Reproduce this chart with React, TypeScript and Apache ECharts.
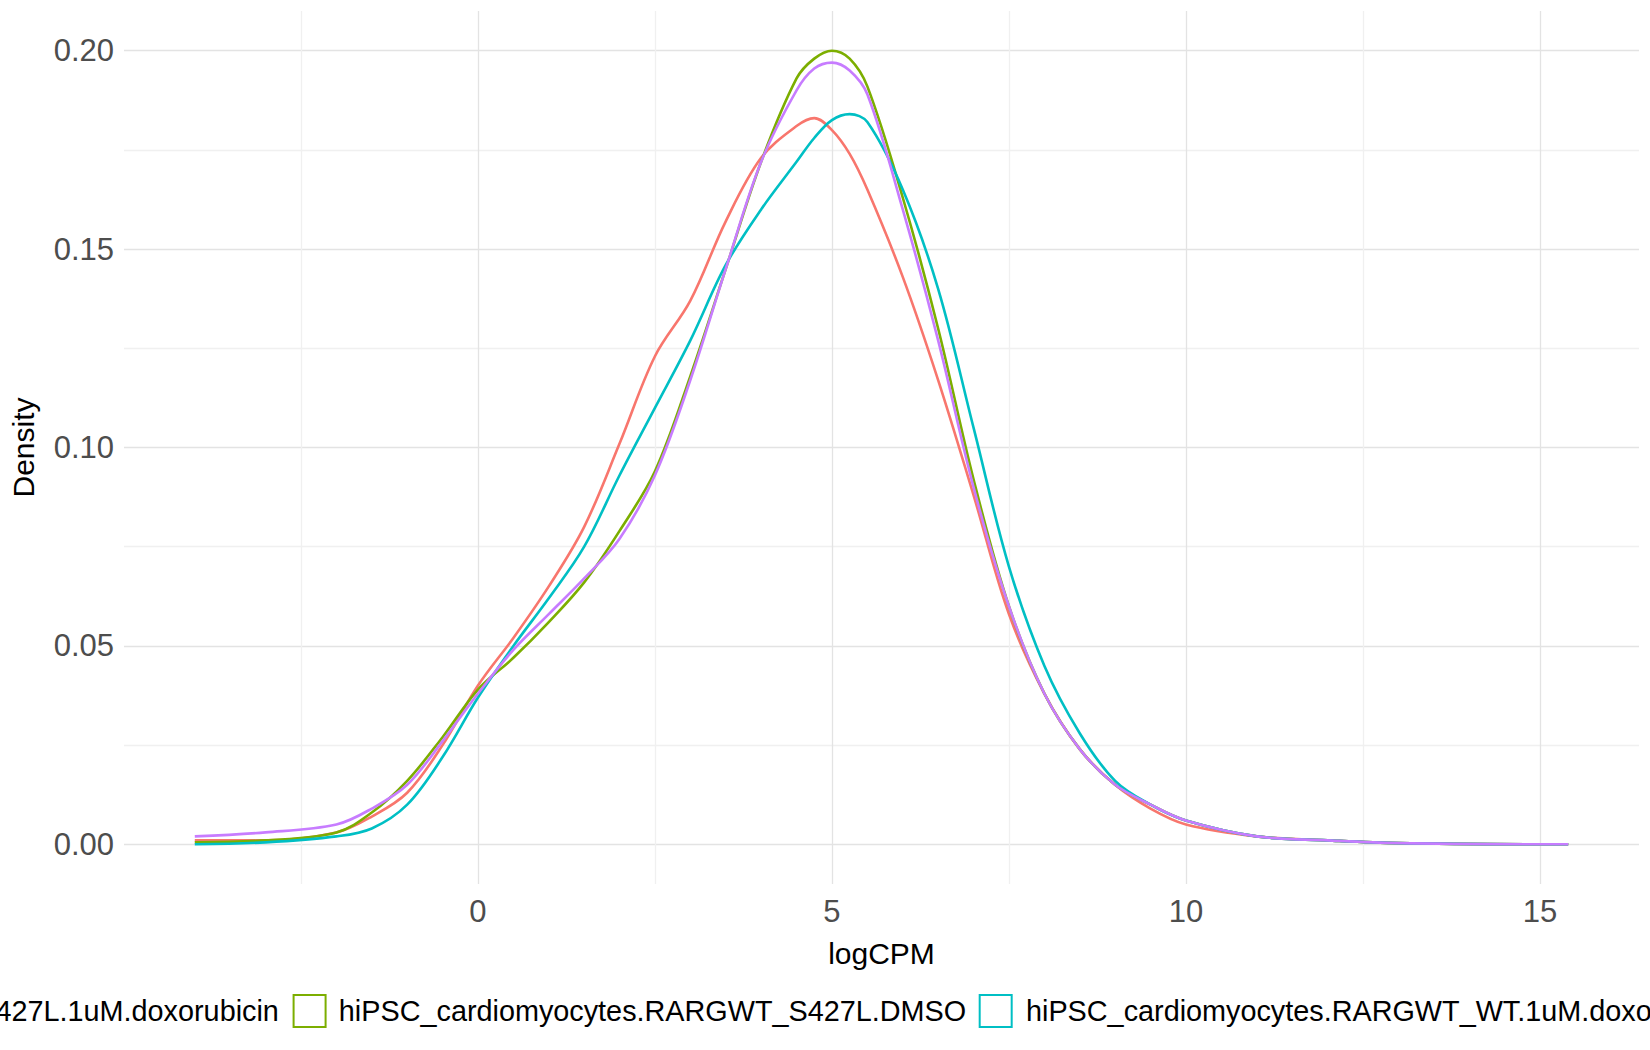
import React, { useEffect, useRef } from "react";
import * as echarts from "echarts";

const xs = [-4, -3, -2, -1.5, -1, -0.5, 0, 0.5, 1, 1.5, 2, 2.5, 3, 3.5, 4, 4.5, 4.75, 5, 5.25, 5.5, 6, 6.5, 7, 7.5, 8, 8.5, 9, 9.5, 10, 11, 12, 13, 15.4];
const redY = [0.001, 0.001, 0.003, 0.007, 0.013, 0.025, 0.040, 0.052, 0.065, 0.080, 0.101, 0.123, 0.137, 0.157, 0.173, 0.181, 0.183, 0.180, 0.174, 0.165, 0.143, 0.117, 0.088, 0.058, 0.038, 0.024, 0.015, 0.009, 0.005, 0.002, 0.001, 0.0003, 0];
const greenY = [0.0005, 0.001, 0.003, 0.008, 0.016, 0.027, 0.039, 0.047, 0.056, 0.066, 0.079, 0.094, 0.118, 0.145, 0.172, 0.193, 0.198, 0.200, 0.198, 0.191, 0.163, 0.130, 0.092, 0.060, 0.038, 0.024, 0.015, 0.010, 0.006, 0.002, 0.001, 0.0003, 0];
const cyanY = [0, 0.0005, 0.002, 0.004, 0.010, 0.022, 0.037, 0.050, 0.062, 0.075, 0.093, 0.110, 0.127, 0.146, 0.160, 0.172, 0.178, 0.1825, 0.184, 0.182, 0.165, 0.140, 0.105, 0.070, 0.045, 0.028, 0.016, 0.010, 0.006, 0.002, 0.001, 0.0003, 0];
const purpleY = [0.002, 0.003, 0.005, 0.009, 0.015, 0.026, 0.038, 0.049, 0.058, 0.067, 0.077, 0.093, 0.117, 0.145, 0.172, 0.190, 0.1955, 0.197, 0.195, 0.189, 0.160, 0.127, 0.090, 0.060, 0.038, 0.024, 0.015, 0.010, 0.006, 0.002, 0.001, 0.0003, 0];

const names = [
  "hiPSC_cardiomyocytes.RARGWT_S427L.1uM.doxorubicin",
  "hiPSC_cardiomyocytes.RARGWT_S427L.DMSO",
  "hiPSC_cardiomyocytes.RARGWT_WT.1uM.doxorubicin",
  "hiPSC_cardiomyocytes.RARGWT_WT.DMSO",
];
const colors = ["#F8766D", "#7CAE00", "#00BFC4", "#C77CFF"];
const seriesY = [redY, greenY, cyanY, purpleY];

export default function App() {
  const ref = useRef<HTMLDivElement>(null);
  useEffect(() => {
    document.body.style.margin = "0";
    const chart = echarts.init(ref.current!, null, { renderer: "svg" });
    const font = "Liberation Sans, Arial, sans-serif";
    const xColors: string[] = [];
    for (let v = -5; v <= 16.4; v += 2.5) {
      xColors.push(v === -5 ? "rgba(0,0,0,0)" : Math.abs(v % 5) < 1e-9 ? "#e3e3e3" : "#f0f0f0");
    }
    const yColors: string[] = [];
    for (let i = 0; i <= 44; i++) {
      const v = Math.round((-0.01 + i * 0.005) * 1000);
      yColors.push(v % 50 === 0 ? "#e3e3e3" : v % 25 === 0 && v > 0 ? "#f0f0f0" : "rgba(0,0,0,0)");
    }
    const sx = 1650 / 1568;
    const ly = 1011;
    const fs = 28.8;
    const graphic: any[] = [
      { type: "text", x: 265 * sx, y: ly, style: { text: names[0], font: `${fs}px ${font}`, fill: "#000", textAlign: "right", textVerticalAlign: "middle" } },
      { type: "rect", shape: { x: 279 * sx, y: ly - 16, width: 32, height: 32 }, style: { fill: "#fff", stroke: colors[1], lineWidth: 2 } },
      { type: "text", x: 322 * sx, y: ly, style: { text: names[1], font: `${fs}px ${font}`, fill: "#000", textVerticalAlign: "middle" } },
      { type: "rect", shape: { x: 931 * sx, y: ly - 16, width: 32, height: 32 }, style: { fill: "#fff", stroke: colors[2], lineWidth: 2 } },
      { type: "text", x: 975 * sx, y: ly, style: { text: names[2], font: `${fs}px ${font}`, fill: "#000", textVerticalAlign: "middle" } },
    ];
    chart.setOption({
      animation: false,
      textStyle: { fontFamily: font },
      grid: { left: 114, right: 11, top: 11, bottom: 166 },
      xAxis: {
        type: "value", min: -5, max: 16.4, interval: 2.5,
        name: "logCPM", nameLocation: "middle", nameGap: 54,
        nameTextStyle: { fontSize: 30, color: "#000" },
        axisLine: { show: false }, axisTick: { show: false },
        axisLabel: {
          fontSize: 31, color: "#4d4d4d", margin: 12,
          formatter: (v: number) => (Math.abs(v % 5) < 1e-9 && v !== -5 ? String(v) : ""),
        },
        splitLine: { show: true, lineStyle: { color: xColors, width: 1.3 } },
      },
      yAxis: {
        type: "value", min: -0.01, max: 0.21, interval: 0.005,
        name: "Density", nameLocation: "middle", nameGap: 86,
        nameTextStyle: { fontSize: 30, color: "#000" },
        axisLine: { show: false }, axisTick: { show: false },
        axisLabel: {
          fontSize: 31, color: "#4d4d4d", margin: 10,
          formatter: (v: number) => {
            const m = Math.round(v * 1000);
            return m % 50 === 0 && m >= 0 ? v.toFixed(2) : "";
          },
        },
        splitLine: { show: true, lineStyle: { color: yColors, width: 1.3 } },
      },
      series: seriesY.map((ys, i) => ({
        type: "line", name: names[i], smooth: 0.35, showSymbol: false,
        lineStyle: { color: colors[i], width: 2.6 },
        data: xs.map((x, j) => [x, ys[j]]),
      })),
      graphic,
    });
    return () => chart.dispose();
  }, []);
  return <div ref={ref} style={{ width: 1650, height: 1050 }} />;
}
